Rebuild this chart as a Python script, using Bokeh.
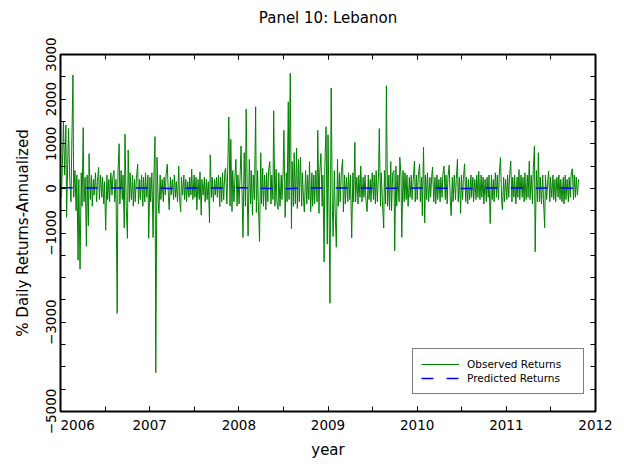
import numpy as np
import pandas as pd
from bokeh.plotting import figure
from bokeh.models import (ColumnDataSource, FixedTicker, Legend, LegendItem,
                          LinearAxis, Range1d)
from bokeh.embed import file_html
from bokeh.resources import INLINE

# ---------------------------------------------------------------- data
title_text = "Panel 10: Lebanon"
x_label = "year"
y_label = "% Daily Returns-Annualized"

# annualized daily returns (%), one value every 3rd business day, by year
returns_2006 = [
    500, -200, 800, 1500, 300, 1420, -650, 700, 1340, 200,
    -300, 900, 2540, -200, 400, -500, 300, -1610, 200, -1810,
    350, -400, 1360, -300, 250, -1300, 300, -840, 780, -250,
    300, -400, 200, -150, 350, -300, 150, 470, -250, 300,
    -200, 250, -350, 150, -940, 300, -250, 200, -300, 350,
    -150, 250, 400, -300, 200, -2800, 300, 1000, -350, 400,
    -250, 300, -890, 1215, -400, -1120, 860, -300, 350, -250,
    300, -400, 200, -300, 250, 540, -350, 200, -250, 300,
    -400, 250, -300, 350, -200, 300, -1120,
]
returns_2007 = [
    250, -300, 350, -1100, 200, 1160, -4130, 700, -300, -560,
    300, -250, 200, -300, 250, -150, 300, 540, -200, -480,
    250, -150, 200, -250, 300, -200, 150, -300, 500, -200,
    -520, 250, -150, 300, -250, 200, -300, 150, -200, 250,
    -150, 430, -250, 300, -200, 250, -480, 200, -250, 370,
    -600, 200, -150, 250, -300, 200, -250, 150, -770, 750,
    -200, 250, -300, 200, -150, 250, -200, 300, -410, 250,
    -300, 350, -250, 400, 450, -350, 300, 1600, -400, 1100,
    -520, 400, -300, 350, 650, -400, 300,
]
returns_2008 = [
    -350, 400, 950, -300, -1100, 800, -400, 1775, -300, -1070,
    650, -350, 400, -600, 300, -250, 1830, -540, 400, -300,
    -1190, 800, -350, 450, -400, 300, -480, 350, -300, 400,
    600, -350, 300, -250, 1740, -400, 430, -300, -470, 350,
    -400, 300, -250, 400, 1300, -650, 350, -300, 1940, -250,
    2580, -900, 600, -400, 800, -350, 900, -450, 650, -300,
    700, -400, 350, -300, -530, 400, -350, 300, -250, 600,
    -520, 350, -400, 300, -350, 400, -300, 1300, -560, 350,
    780, -400, 300, -1650, 500, 1380, -1250,
]
returns_2009 = [
    1200, -800, -2575, 2250, -500, -1080, 400, -450, -1320, 650,
    -400, 350, -300, 400, 650, -530, 300, -350, 250, -300,
    350, -250, 300, -1110, 350, -300, 1030, -300, 250, -350,
    300, -200, 500, -300, 250, -200, 300, -250, -520, 300,
    -250, 200, -300, 350, -250, 300, -350, 400, -300, 350,
    1340, -400, 350, -300, -890, 400, -350, 2300, -400, 300,
    -480, 600, -500, 350, 400, -1400, 500, -400, 300, -300,
    700, 250, -1100, 400, -300, 350, -250, 300, -400, 250,
    -200, 300, -250, 200, 610, -300, 300,
]
returns_2010 = [
    -250, 300, 550, -300, 250, -610, 920, -770, 300, -250,
    350, -300, 250, -200, 300, 480, -300, 250, -350, 300,
    -250, 200, -300, 250, -200, 300, 500, -250, 300, -350,
    250, 520, -300, -610, 250, -300, 300, -250, 200, 650,
    -300, 250, -560, 300, -250, 200, 550, -300, 250, -350,
    200, -250, 300, -200, 250, -300, 200, -250, 300, -200,
    380, -250, 300, -200, 250, -350, 200, -300, 250, -200,
    300, -790, 300, -250, 200, -300, 350, -200, 300, -250,
    300, 690, -300, -480, 250, -300, 200,
]
returns_2011 = [
    -250, 300, -200, 250, 610, -300, 250, -200, 300, -350,
    250, -200, 420, -250, 300, -200, 250, -300, 350, -250,
    300, -200, 610, -250, 300, -350, 400, 950, -1420, 400,
    -300, 800, -300, 250, -350, 300, -250, -880, 300, -250,
    200, 390, -300, 250, -200, 300, -250, 200, -300, 250,
    -200, 300, -250, 200, -300, 250, -350, 300, -250, 200,
    -300, 250, -200, 300, 440, -250, 300, -200, 250, -150,
    200,
]
observed = (returns_2006 + returns_2007 + returns_2008
            + returns_2009 + returns_2010 + returns_2011)

# model-predicted returns (%), evenly spaced over the same period
predicted = [15, 10, 5, 12, 8, -4, 6, 10, 14, 3, -6, 9,
             11, 7, 4, 2, 8, 5, -3, 6, 9, 4, 7, 5]

x_tick_years = [2006, 2007, 2008, 2009, 2010, 2011, 2012]
y_tick_values = [-5000, -3000, -1000, 0, 1000, 2000, 3000]


def decimal_year(dates):
    days = np.where(dates.is_leap_year, 366.0, 365.0)
    return np.asarray(dates.year + (dates.dayofyear - 1) / days, dtype=float)


obs_dates = pd.date_range("2006-01-02", periods=len(observed), freq="3B")
pred_dates = pd.date_range(obs_dates[0], obs_dates[-1], periods=len(predicted))

obs_src = ColumnDataSource(dict(x=decimal_year(obs_dates), y=observed))
pred_src = ColumnDataSource(dict(x=decimal_year(pred_dates), y=predicted))

# ---------------------------------------------------------------- figure
FONT = "DejaVu Sans"

p = figure(width=624, height=464, output_backend="svg", toolbar_location=None,
           x_range=Range1d(x_tick_years[0], x_tick_years[-1]),
           y_range=Range1d(y_tick_values[0], y_tick_values[-1]),
           min_border_left=60, min_border_right=29,
           min_border_top=54, min_border_bottom=53)

p.background_fill_color = "white"
p.border_fill_color = "white"
p.outline_line_color = "black"
p.outline_line_width = 2
p.grid.visible = False

x_minor = list(np.arange(x_tick_years[0], x_tick_years[-1] + 0.01, 0.5))
y_minor = list(np.arange(y_tick_values[0], y_tick_values[-1] + 1, 500))
x_ticker = FixedTicker(ticks=x_tick_years, minor_ticks=x_minor)
y_ticker = FixedTicker(ticks=y_tick_values, minor_ticks=y_minor)

p.xaxis.ticker = x_ticker
p.yaxis.ticker = y_ticker

x_overrides = {yr: str(yr) for yr in x_tick_years}
x_overrides[x_tick_years[0]] = "\u00a0" * 8 + str(x_tick_years[0])
p.xaxis.major_label_overrides = x_overrides
p.yaxis.major_label_overrides = {v: str(v).replace("-", "\u2212") for v in y_tick_values}
p.yaxis.major_label_orientation = "vertical"

p.xaxis.axis_label = x_label
p.yaxis.axis_label = y_label

# mirrored tick marks on the top and right edges; the top one carries the title
top_axis = LinearAxis(ticker=x_ticker, axis_label=title_text)
p.add_layout(top_axis, "above")
p.add_layout(LinearAxis(ticker=y_ticker), "right")

for ax in p.axis:
    ax.axis_line_color = None
    ax.major_tick_in = 5
    ax.major_tick_out = 0
    ax.minor_tick_in = 5
    ax.minor_tick_out = 0
    ax.major_tick_line_color = "black"
    ax.minor_tick_line_color = "black"
    ax.major_label_text_font = FONT
    ax.major_label_text_font_size = "13.5px"
    ax.major_label_text_color = "black"
    ax.axis_label_text_font = FONT
    ax.axis_label_text_font_size = "15px"
    ax.axis_label_text_font_style = "normal"
    ax.axis_label_text_color = "black"

p.xaxis[0].major_label_standoff = 6
p.xaxis[0].axis_label_standoff = 17
p.yaxis[0].major_label_standoff = 5
p.yaxis[0].axis_label_standoff = 11

for ax in (top_axis, p.right[-1]):
    ax.major_label_text_color = None
    ax.major_label_standoff = 0
top_axis.axis_label_standoff = 28

# ---------------------------------------------------------------- series
r_obs = p.line("x", "y", source=obs_src, line_color="#008000", line_width=1)
r_pred = p.line("x", "y", source=pred_src, line_color="#0000ff",
                line_width=1.5, line_dash="12 13")

legend = Legend(items=[LegendItem(label="Observed Returns", renderers=[r_obs]),
                       LegendItem(label="Predicted Returns", renderers=[r_pred])],
                location=(352, 17))
legend.border_line_color = "black"
legend.border_line_width = 1
legend.background_fill_color = "white"
legend.background_fill_alpha = 1
legend.label_text_font = FONT
legend.label_text_font_size = "10.5px"
legend.label_text_color = "black"
legend.glyph_width = 38
legend.glyph_height = 14
legend.label_height = 14
legend.label_width = 108
legend.label_standoff = 8
legend.padding = 8
legend.spacing = 0
legend.margin = 0
p.add_layout(legend)

open("out.html", "w").write(file_html(p, INLINE))
